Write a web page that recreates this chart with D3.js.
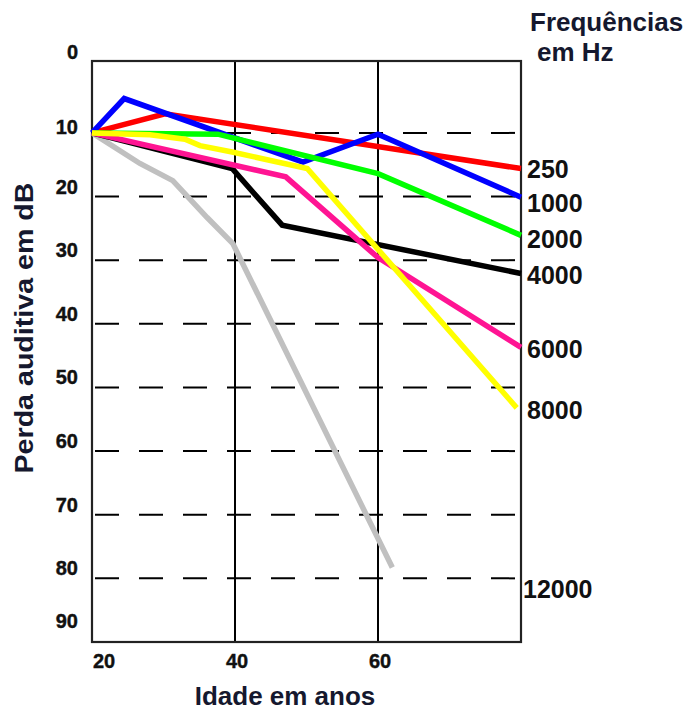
<!DOCTYPE html>
<html>
<head>
<meta charset="utf-8">
<script src="https://cdn.jsdelivr.net/npm/d3@7/dist/d3.min.js"></script>
<style>
  html, body { margin: 0; padding: 0; background: #ffffff; }
  svg { display: block; }
</style>
</head>
<body>
<svg id="chart" width="689" height="711"></svg>
<script>
// ---------- DATA ----------
const frequencies = ["250", "1000", "2000", "4000", "6000", "8000", "12000"];
const seriesColors = ["#ff0000", "#0000ff", "#00ff00", "#000000", "#ff1493", "#ffff00", "#c0c0c0"];

// each series: ages (years) and hearing loss (dB)
const ages250   = [20, 30.2, 80];
const loss250   = [10, 7, 15.6];
const ages1000  = [20, 24.5, 49.5, 60, 80];
const loss1000  = [10, 4.6, 14.6, 10.2, 20.1];
const ages2000  = [20, 37.6, 60, 80];
const loss2000  = [10, 10.2, 16.4, 26.1];
const ages4000  = [20, 39.6, 46.6, 80];
const loss4000  = [10, 15.6, 24.5, 32.1];
const ages6000  = [20, 47.1, 60, 80];
const loss6000  = [10, 16.9, 29.6, 43.7];
const ages8000  = [20, 28.1, 33, 35.1, 39.6, 50.1, 79.4];
const loss8000  = [10, 10.3, 11, 12, 13, 15.6, 53.2];
const ages12000 = [20, 26.7, 31.3, 36.1, 39.7, 62];
const loss12000 = [10, 14.8, 17.5, 23.3, 27.4, 78.3];

// legend label anchor (dB) at the right side
const legendDb = [15.6, 21, 26.6, 32.4, 44, 53.6, 81.7];

const xTicks = [20, 40, 60];
const xGrid = [40, 60];
const yTicks = [0, 10, 20, 30, 40, 50, 60, 70, 80, 90];
const yGrid = [10, 20, 30, 40, 50, 60, 70, 80];

const xTitle = "Idade em anos";
const yTitle = "Perda auditiva em dB";
const legendTitle1 = "Frequências";
const legendTitle2 = "em Hz";

// ---------- LAYOUT ----------
const svg = d3.select("#chart");
const W = 689, H = 711;
const margin = { top: 61, left: 92, right: 168, bottom: 69 };
const plotL = margin.left, plotR = W - margin.right, plotT = margin.top, plotB = H - margin.bottom;

const x = d3.scaleLinear().domain([20, 80]).range([plotL, plotR]);
const y = d3.scaleLinear().domain([-1.3, 90]).range([plotT, plotB]);

const series = [
  { ages: ages250,   loss: loss250 },
  { ages: ages1000,  loss: loss1000 },
  { ages: ages2000,  loss: loss2000 },
  { ages: ages4000,  loss: loss4000 },
  { ages: ages6000,  loss: loss6000 },
  { ages: ages8000,  loss: loss8000 },
  { ages: ages12000, loss: loss12000 }
].map((s, i) => ({
  name: frequencies[i],
  color: seriesColors[i],
  points: s.ages.map((a, j) => [a, s.loss[j]])
}));

const titleFont = "'Liberation Sans', Arial, sans-serif";
const tickFont = titleFont;
const textColor = "#15182e";

// dashed horizontal grid
svg.append("g").selectAll("line").data(yGrid).join("line")
  .attr("x1", plotL + 3).attr("x2", plotR)
  .attr("y1", d => y(d)).attr("y2", d => y(d))
  .attr("stroke", "#000").attr("stroke-width", 2)
  .attr("stroke-dasharray", "24,20");

// vertical grid
svg.append("g").selectAll("line").data(xGrid).join("line")
  .attr("x1", d => x(d)).attr("x2", d => x(d))
  .attr("y1", plotT).attr("y2", plotB)
  .attr("stroke", "#000").attr("stroke-width", 2);

// frame
svg.append("rect")
  .attr("x", plotL).attr("y", plotT)
  .attr("width", plotR - plotL).attr("height", plotB - plotT)
  .attr("fill", "none").attr("stroke", "#222").attr("stroke-width", 2.2);

// lines
const line = d3.line().x(d => x(d[0])).y(d => y(d[1]));
const drawOrder = [6, 3, 0, 1, 2, 4, 5];
svg.append("g").selectAll("path").data(drawOrder.map(i => series[i])).join("path")
  .attr("d", d => line(d.points))
  .attr("fill", "none")
  .attr("stroke", d => d.color)
  .attr("stroke-width", 5.5)
  .attr("stroke-linejoin", "miter")
  .attr("stroke-linecap", "butt");

// y tick labels
const yLabelShift = d => (d === 0 ? -17 : d === 90 ? -21 : d === 10 ? -6 : -10);
svg.append("g").selectAll("text").data(yTicks).join("text")
  .attr("x", plotL - 14)
  .attr("y", d => y(d) + yLabelShift(d))
  .attr("text-anchor", "end")
  .attr("dominant-baseline", "central")
  .attr("font-family", tickFont).attr("font-weight", "bold").attr("font-size", 20)
  .attr("fill", "#111").attr("stroke", "#111").attr("stroke-width", 0.4)
  .text(d => d);

// x tick labels
svg.append("g").selectAll("text").data(xTicks).join("text")
  .attr("x", d => x(d) + (d === 20 ? 12 : 2))
  .attr("y", plotB + 19)
  .attr("text-anchor", "middle")
  .attr("dominant-baseline", "central")
  .attr("font-family", tickFont).attr("font-weight", "bold").attr("font-size", 20)
  .attr("fill", "#111").attr("stroke", "#111").attr("stroke-width", 0.4)
  .text(d => d);

// legend labels
svg.append("g").selectAll("text").data(series).join("text")
  .attr("x", (d, i) => plotR + (d.name.length > 4 ? 2 : 6))
  .attr("y", (d, i) => y(legendDb[i]))
  .attr("text-anchor", "start")
  .attr("dominant-baseline", "central")
  .attr("font-family", titleFont).attr("font-weight", "bold").attr("font-size", 25)
  .attr("fill", "#111")
  .text(d => d.name);

// legend title
svg.append("text")
  .attr("x", plotR + 9).attr("y", 22)
  .attr("dominant-baseline", "central")
  .attr("font-family", titleFont).attr("font-weight", "bold").attr("font-size", 26)
  .attr("fill", textColor).text(legendTitle1);
svg.append("text")
  .attr("x", plotR + 16).attr("y", 52)
  .attr("dominant-baseline", "central")
  .attr("font-family", titleFont).attr("font-weight", "bold").attr("font-size", 26)
  .attr("fill", textColor).text(legendTitle2);

// x title
svg.append("text")
  .attr("x", 285).attr("y", 696)
  .attr("text-anchor", "middle")
  .attr("dominant-baseline", "central")
  .attr("font-family", titleFont).attr("font-weight", "bold").attr("font-size", 26)
  .attr("fill", textColor).text(xTitle);

// y title
svg.append("text")
  .attr("transform", "translate(24,328) rotate(-90)")
  .attr("text-anchor", "middle")
  .attr("dominant-baseline", "central")
  .attr("font-family", titleFont).attr("font-weight", "bold").attr("font-size", 26)
  .attr("textLength", 291).attr("lengthAdjust", "spacingAndGlyphs")
  .attr("fill", textColor).text(yTitle);
</script>
</body>
</html>
